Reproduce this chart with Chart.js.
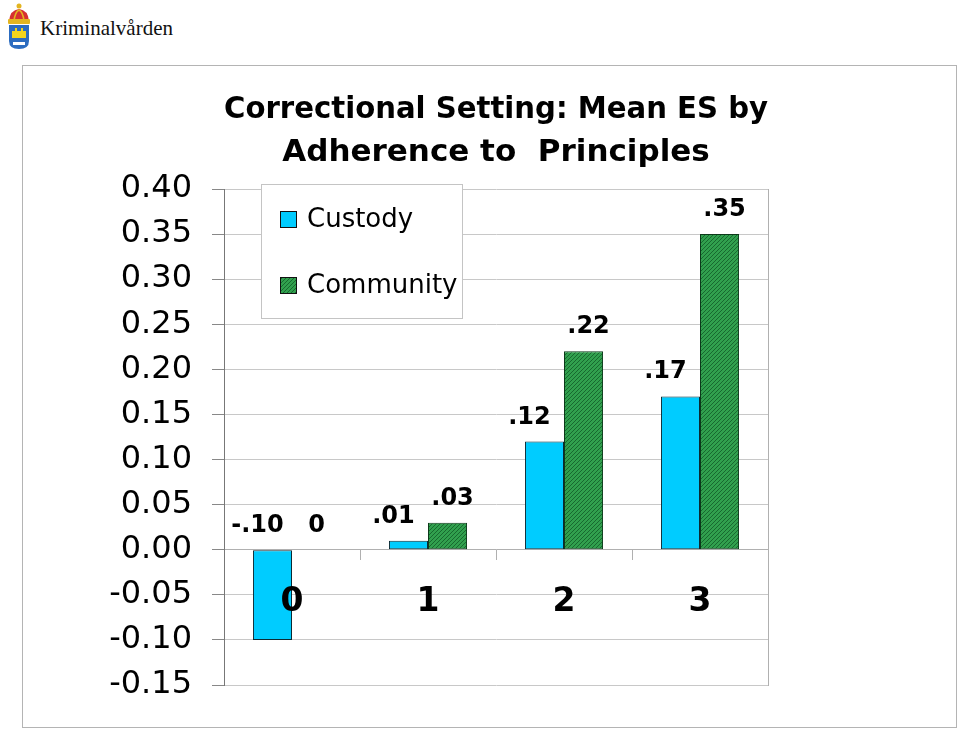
<!DOCTYPE html>
<html>
<head>
<meta charset="utf-8">
<script src="https://cdn.jsdelivr.net/npm/chart.js@4.4.1/dist/chart.umd.min.js"></script>
<style>
  html, body { margin: 0; padding: 0; background: #fff; }
  body { width: 959px; height: 731px; position: relative; overflow: hidden; }
  #frame { position: absolute; left: 22px; top: 65px; width: 933px; height: 661px; border: 1px solid #b4b4b4; }
  #logo { position: absolute; left: 4px; top: 2px; }
  #brand { position: absolute; left: 40px; top: 16px; font: 21px "Liberation Serif", serif; color: #111; }
  #myChart { position: absolute; left: 0; top: 0; }
</style>
</head>
<body>
<div id="frame"></div>
<svg id="logo" width="30" height="48" viewBox="0 0 30 48">
  <circle cx="15" cy="4" r="2.5" fill="#e3b520"/>
  <path d="M5 19 Q6 8 15 7 Q24 8 25 19 Z" fill="#d63030"/>
  <path d="M10 19 Q11 10 15 8 Q19 10 20 19" fill="none" stroke="#e3b520" stroke-width="1.5"/>
  <rect x="4" y="17" width="22" height="5" rx="1" fill="#e3b520"/>
  <path d="M5 23 H25 V39 Q25 47 15 47 Q5 47 5 39 Z" fill="#2c6cc0"/>
  <path d="M8 29 h3 v-3 h2 v3 h4 v-3 h2 v3 h3 v7 h-14 Z" fill="#f4d51e"/>
  <path d="M9 40 h12 v3 h-12 Z" fill="#fff"/>
</svg>
<div id="brand">Kriminalvården</div>
<canvas id="myChart" width="959" height="731"></canvas>
<script>
const categories = ['0', '1', '2', '3']
const seriesNames = ['Custody', 'Community']
const custody = [-0.10, 0.01, 0.12, 0.17]
const community = [0, 0.03, 0.22, 0.35]
const titleLines = ['Correctional Setting: Mean ES by', 'Adherence to  Principles']
const yMin = -0.15
const yMax = 0.40
const yStep = 0.05

const FONT = '"DejaVu Sans", sans-serif'
const custodyColor = '#00ccff'

function hatch() {
  const c = document.createElement('canvas')
  c.width = 4
  c.height = 4
  const g = c.getContext('2d')
  g.fillStyle = '#31a04e'
  g.fillRect(0, 0, 4, 4)
  g.strokeStyle = '#17692f'
  g.lineWidth = 1
  g.beginPath()
  g.moveTo(0, 4); g.lineTo(4, 0)
  g.moveTo(-1, 1); g.lineTo(1, -1)
  g.moveTo(3, 5); g.lineTo(5, 3)
  g.stroke()
  return g.createPattern(c, 'repeat')
}
const communityFill = hatch()

// -.10 / .01 / 0 style labels
function fmt(v) {
  if (v === 0) return '0'
  const s = Math.round(Math.abs(v) * 100).toString().padStart(2, '0')
  return (v < 0 ? '-.' : '.') + s
}

const rightBorder = {
  id: 'rightBorder',
  beforeDatasetsDraw(chart) {
    const { ctx, chartArea: a } = chart
    ctx.save()
    ctx.strokeStyle = '#b0b0b0'
    ctx.lineWidth = 1
    ctx.beginPath()
    ctx.moveTo(Math.round(a.right) + 0.5, a.top)
    ctx.lineTo(Math.round(a.right) + 0.5, a.bottom + 1)
    ctx.stroke()
    ctx.restore()
  }
}

const valueLabels = {
  id: 'valueLabels',
  afterDatasetsDraw(chart) {
    const { ctx } = chart
    const zero = chart.scales.y.getPixelForValue(0)
    ctx.save()
    ctx.font = 'bold 24px ' + FONT
    ctx.fillStyle = '#000'
    ctx.textAlign = 'center'
    ctx.textBaseline = 'alphabetic'
    chart.data.datasets.forEach((ds, i) => {
      chart.getDatasetMeta(i).data.forEach((bar, j) => {
        const shift = i === 0 ? -15 : 5
        ctx.fillText(fmt(ds.data[j]), bar.x + shift, Math.min(bar.y, zero) - 18)
      })
    })
    ctx.restore()
  }
}

const boxLegend = {
  id: 'boxLegend',
  afterDraw(chart) {
    const { ctx } = chart
    const x = 261, y = 184, w = 201, h = 134
    ctx.save()
    ctx.fillStyle = '#fff'
    ctx.fillRect(x, y, w, h)
    ctx.strokeStyle = '#c4c4c4'
    ctx.lineWidth = 1
    ctx.strokeRect(x + 0.5, y + 0.5, w, h)
    ctx.font = '26px ' + FONT
    ctx.textBaseline = 'middle'
    ctx.textAlign = 'left'
    chart.data.datasets.forEach((ds, i) => {
      const cy = 219 + i * 66
      ctx.fillStyle = ds.backgroundColor
      ctx.fillRect(280, cy - 8, 17, 17)
      ctx.strokeStyle = '#111'
      ctx.strokeRect(280.5, cy - 7.5, 16, 16)
      ctx.fillStyle = '#000'
      ctx.fillText(ds.label, 307, cy + 1)
    })
    ctx.restore()
  }
}

const myChart = new Chart(document.getElementById('myChart'), {
  type: 'bar',
  data: {
    labels: categories,
    datasets: [{
      label: seriesNames[0],
      data: custody,
      backgroundColor: custodyColor,
      borderColor: '#0b2a33',
      borderWidth: c => (c.raw === 0 ? 0 : 1),
      borderSkipped: false,
      categoryPercentage: 0.574,
      barPercentage: 1
    }, {
      label: seriesNames[1],
      data: community,
      backgroundColor: communityFill,
      borderColor: '#0c3a1a',
      borderWidth: c => (c.raw === 0 ? 0 : 1),
      borderSkipped: false,
      categoryPercentage: 0.574,
      barPercentage: 1
    }]
  },
  options: {
    responsive: false,
    animation: false,
    devicePixelRatio: 1,
    layout: { padding: { left: 0, top: 88, right: 191, bottom: 46 } },
    plugins: {
      legend: { display: false },
      tooltip: { enabled: false },
      title: {
        display: true,
        fullSize: false,
        text: titleLines,
        color: '#000',
        font: { family: FONT, size: 31, weight: 'bold', lineHeight: 43 / 31 },
        padding: { top: 0, bottom: 15 }
      }
    },
    scales: {
      x: {
        position: { y: 0 },
        grid: { offset: true, drawOnChartArea: false, tickLength: 10, color: '#b0b0b0' },
        border: { display: true, color: '#b0b0b0' },
        ticks: { z: 1, color: '#000', padding: 26, font: { family: FONT, size: 33, weight: 'bold', lineHeight: 1 } }
      },
      y: {
        min: yMin,
        max: yMax,
        afterFit: s => { s.width = 224 },
        grid: { color: '#c8c8c8', tickColor: '#888', tickLength: 12 },
        border: { display: true, color: '#777' },
        ticks: {
          stepSize: yStep,
          color: '#000',
          padding: 20,
          font: { family: FONT, size: 32 },
          callback: v => v.toFixed(2)
        }
      }
    }
  },
  plugins: [rightBorder, valueLabels, boxLegend]
})
</script>
</body>
</html>
